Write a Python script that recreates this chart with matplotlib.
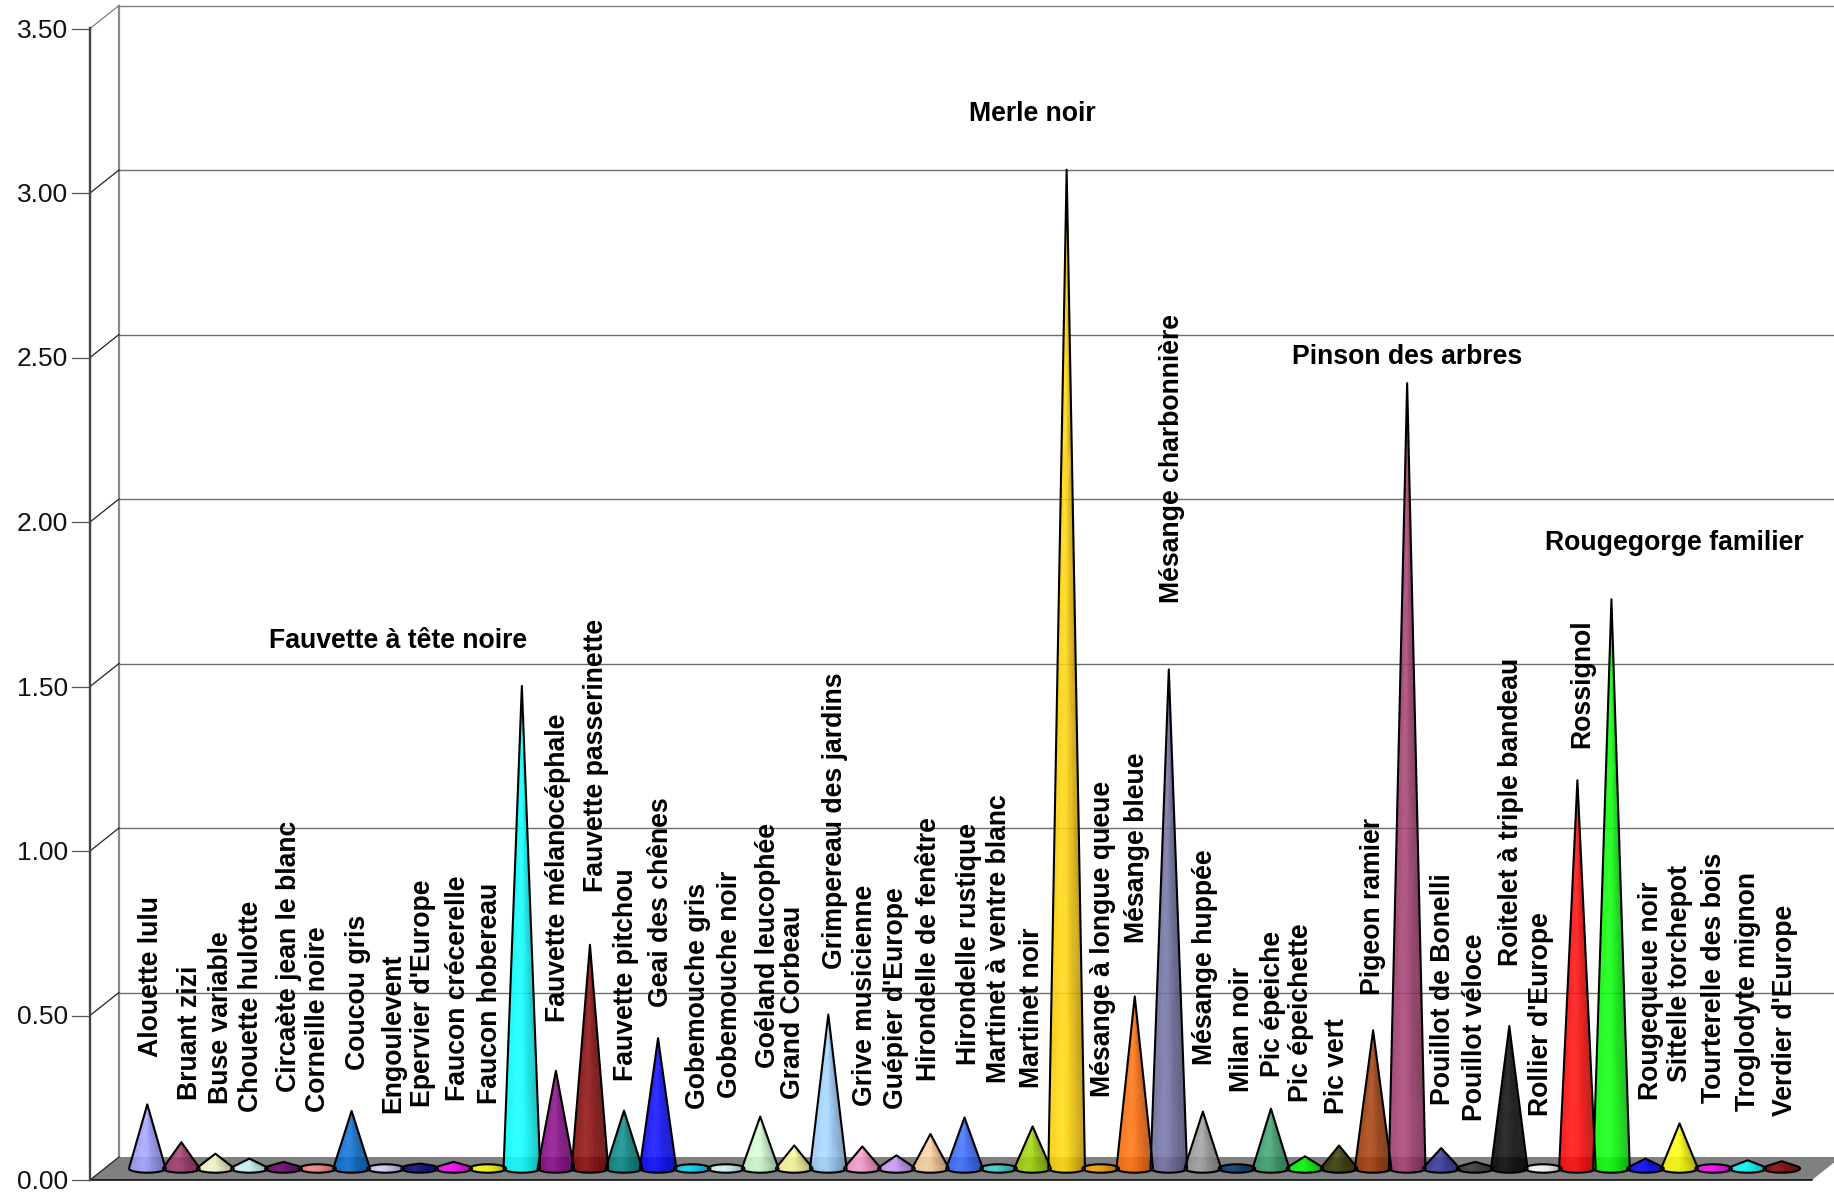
import numpy as np
import matplotlib
matplotlib.use('Agg')
import matplotlib.pyplot as plt
from matplotlib.patches import Polygon
from matplotlib.colors import to_rgb

plt.rcParams['font.family'] = ['Liberation Sans', 'DejaVu Sans']

especes = ["Alouette lulu", "Bruant zizi", "Buse variable", "Chouette hulotte",
           "Circaète jean le blanc", "Corneille noire", "Coucou gris", "Engoulevent",
           "Epervier d'Europe", "Faucon crécerelle", "Faucon hobereau",
           "Fauvette à tête noire", "Fauvette mélanocéphale", "Fauvette passerinette",
           "Fauvette pitchou", "Geai des chênes", "Gobemouche gris", "Gobemouche noir",
           "Goéland leucophée", "Grand Corbeau", "Grimpereau des jardins",
           "Grive musicienne", "Guépier d'Europe", "Hirondelle de fenêtre",
           "Hirondelle rustique", "Martinet à ventre blanc", "Martinet noir", "Merle noir",
           "Mésange à longue queue", "Mésange bleue", "Mésange charbonnière",
           "Mésange huppée", "Milan noir", "Pic épeiche", "Pic épeichette", "Pic vert",
           "Pigeon ramier", "Pinson des arbres", "Pouillot de Bonelli", "Pouillot véloce",
           "Roitelet à triple bandeau", "Rollier d'Europe", "Rossignol",
           "Rougegorge familier", "Rougequeue noir", "Sittelle torchepot",
           "Tourterelle des bois", "Troglodyte mignon", "Verdier d'Europe"]

valeurs = [0.195, 0.08, 0.045, 0.03, 0.02, 0.012, 0.175, 0.012, 0.015, 0.02, 0.012,
           1.467, 0.297, 0.68, 0.176, 0.396, 0.012, 0.012, 0.158, 0.07, 0.468,
           0.067, 0.04, 0.105, 0.155, 0.012, 0.128, 3.036, 0.012, 0.523, 1.517,
           0.173, 0.012, 0.182, 0.037, 0.07, 0.42, 2.387, 0.062, 0.02, 0.433,
           0.012, 1.18, 1.73, 0.03, 0.137, 0.012, 0.025, 0.022]

couleurs = ['#9999FF', '#993366', '#FFFFCC', '#CCFFFF', '#660066', '#FF8080', '#0066CC',
            '#CCCCFF', '#000080', '#FF00FF', '#FFFF00', '#00FFFF', '#800080', '#800000',
            '#008080', '#0000FF', '#00CCFF', '#CCFFFF', '#CCFFCC', '#FFFF99', '#99CCFF',
            '#FF99CC', '#CC99FF', '#FFCC99', '#3366FF', '#33CCCC', '#99CC00', '#FFCC00',
            '#FF9900', '#FF6600', '#666699', '#969696', '#003366', '#339966', '#00FF00',
            '#333300', '#993300', '#993366', '#333399', '#333333', '#000000', '#FFFFFF',
            '#FF0000', '#00FF00', '#0000FF', '#FFFF00', '#FF00FF', '#00FFFF', '#800000']

graduations = [0, 0.5, 1.0, 1.5, 2.0, 2.5, 3.0, 3.5]

# placement des étiquettes en pixels : centre x, bas du texte y
label_x = [148, 187, 218, 248, 286, 315, 355, 390, 420, 455, 487,
           398, 555, 593, 623, 658, 695, 727, 765, 790, 832, 862, 893, 926,
           966, 996, 1029, 1032, 1100, 1134, 1169, 1202, 1239, 1270, 1298, 1334, 1370,
           1407, 1440, 1472, 1508, 1538, 1579, 1674, 1648, 1677, 1711, 1745, 1782]
label_y = [1057, 1100, 1104, 1112, 1092, 1112, 1070, 1113, 1107, 1101, 1104,
           639, 1022, 892, 1081, 1007, 1109, 1098, 1068, 1099, 969, 1106, 1109, 1081,
           1065, 1083, 1088, 112, 1097, 943, 603, 1065, 1092, 1077, 1102, 1114, 995,
           355, 1105, 1121, 966, 1116, 748, 541, 1100, 1082, 1103, 1111, 1116]
horizontales = ["Fauvette à tête noire", "Merle noir", "Pinson des arbres", "Rougegorge familier"]

W, H = 1834, 1194
pas_x = 34.05  # px entre deux cônes
pas_y = 329.0  # px pour une unité
x_ref, y_ref = 147.3, 1168.5
rayon = 18.3 / pas_x
ellipse = 4.2 / pas_y


def X(p):
    return (p - x_ref) / pas_x


def Y(p):
    return (y_ref - p) / pas_y


def cone_outline(i, h):
    if h <= ellipse:
        t = np.linspace(0, 2 * np.pi, 80)
        return np.c_[i + rayon * np.cos(t), ellipse * np.sin(t)]
    # contour : points de tangence de la base, tour par le bas, puis la pointe
    t_tan = np.arcsin(ellipse / h)
    t = np.linspace(t_tan, -np.pi - t_tan, 80)
    base = np.c_[i + rayon * np.cos(t), ellipse * np.sin(t)]
    return np.vstack([base, [i, h]])


def cone_image(i, h, couleur):
    ny = max(int((h + ellipse * 2) * pas_y), 8)
    xs = np.linspace(i - rayon, i + rayon, 80)
    ys = np.linspace(max(h, ellipse), -ellipse, ny)
    xx, yy = np.meshgrid(xs, ys)
    if h > 2 * ellipse:
        u = (xx - i) / (rayon * np.maximum(1 - yy / h, 0.02))
    else:
        u = (xx - i) / rayon
    u = np.clip(u, -1, 1)
    # ombre vers la droite, léger reflet à gauche, stries qui partent de la pointe
    ombre = 0.97 - 0.26 * np.clip(u + 0.1, 0, None) ** 1.3
    reflet = 0.06 * np.exp(-((u + 0.3) / 0.4) ** 2)
    px = (xx - i) * pas_x
    stries = 0.05 * np.sin(u * 70) + 0.035 * np.sin(u * 45) * np.sin(px * 2.6)
    c = np.array(to_rgb(couleur))
    img = c[None, None, :] * (ombre + stries)[:, :, None] + (reflet + np.abs(stries) * 0.5)[:, :, None]
    return np.clip(img, 0, 1), (xs[0], xs[-1], ys[-1], ys[0])


fig = plt.figure(figsize=(W / 100, H / 100), dpi=100)
ax = fig.add_axes([0, 0, 1, 1])
ax.axis('off')

# sol et parois
fond_x, face_x = 119, 90
fond_y, face_y = 1157, 1180
ax.add_patch(Polygon([(X(face_x), Y(face_y)), (X(1812), Y(face_y)), (X(1841), Y(fond_y)), (X(fond_x), Y(fond_y))],
                     closed=True, facecolor='#808080', edgecolor='none', zorder=1))
ax.plot([X(face_x), X(1812)], [Y(face_y)] * 2, color='black', lw=1.1, zorder=2)
ax.plot([X(fond_x)] * 2, [Y(fond_y), Y(6)], color='#8a8a8a', lw=1.6, zorder=2)
ax.plot([X(face_x)] * 2, [Y(face_y), Y(28)], color='#444444', lw=1.7, zorder=6)

for g in graduations:
    y_face = face_y - g * pas_y
    y_fond = y_face - (face_y - fond_y)
    if g > 0:
        coul = '#808080' if g == 3.5 else '#6e6e6e'
        ax.plot([X(fond_x), X(W)], [Y(y_fond)] * 2, color=coul, lw=1.0, zorder=2)
    ax.plot([X(face_x), X(fond_x)], [Y(y_face), Y(y_fond)], color='#808080' if g == 3.5 else '#222222', lw=0.9, zorder=2)
    ax.plot([X(72), X(face_x)], [Y(y_face)] * 2, color='#555555', lw=0.9, zorder=2)
    ax.text(X(68), Y(y_face + 2), '%.2f' % g, ha='right', va='center', fontsize=19, color='#111111', zorder=7)

for i, (v, c) in enumerate(zip(valeurs, couleurs)):
    ax.add_patch(Polygon(cone_outline(i, v), closed=True, facecolor='none', edgecolor='black',
                         lw=1.5, joinstyle='round', zorder=4 + i * 0.001))
    img, ext = cone_image(i, v, c)
    im = ax.imshow(img, extent=ext, aspect='auto', alpha=0.88, interpolation='bilinear', zorder=3 + i * 0.001)
    im.set_clip_path(Polygon(cone_outline(i, v), closed=True, transform=ax.transData))

for nom, lx, ly in zip(especes, label_x, label_y):
    if nom in horizontales:
        ax.text(X(lx), Y(ly + 2), nom, ha='center', va='center', fontsize=19.2, fontweight='bold', zorder=8)
    else:
        ax.text(X(lx + 3), Y(ly), nom, rotation=90, ha='center', va='bottom', fontsize=19.2, fontweight='bold', zorder=8)

ax.set_xlim(X(0), X(W))
ax.set_ylim(Y(H), Y(0))
fig.savefig('out.png', dpi=100)
